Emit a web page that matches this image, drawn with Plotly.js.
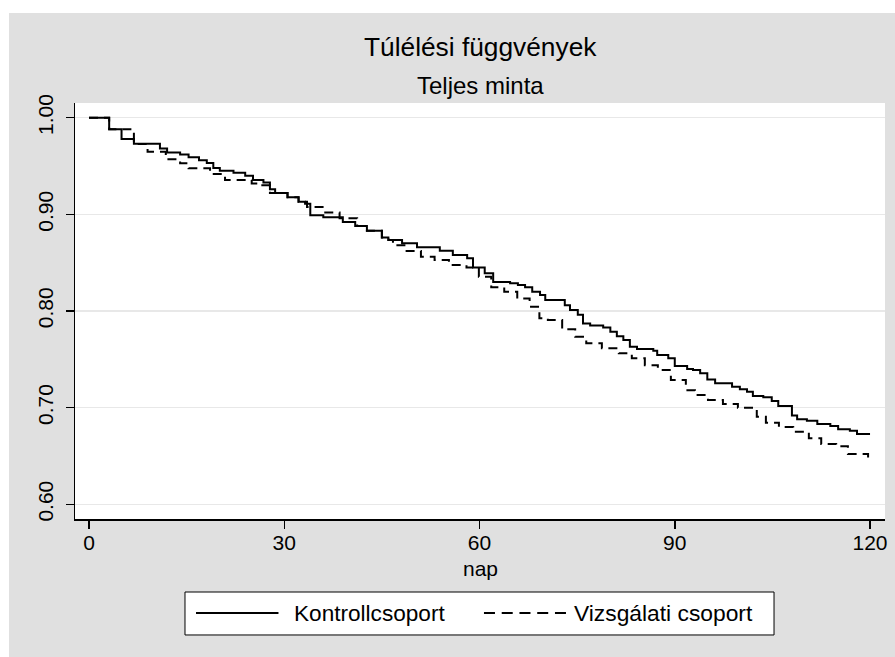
<!DOCTYPE html>
<html>
<head>
<meta charset="utf-8">
<script src="https://cdn.plot.ly/plotly-3.0.1.min.js"></script>
<style>
html,body{margin:0;padding:0;background:#ffffff;width:895px;height:657px;overflow:hidden;}
#chart{position:absolute;left:9px;top:13px;width:886px;height:644px;}
</style>
</head>
<body>
<div id="chart"></div>
<script>
// Kontrollcsoport (solid) step function: time of drop, survival after drop
const kontrollT = [0,3.1,5.0,6.9,10.9,12.0,14.0,15.3,16.9,18.1,19.1,20.1,22.2,24.0,25.2,26.8,27.8,28.6,30.5,32.2,33.2,34.0,36.0,39.0,40.9,42.7,45.0,46.0,48.1,50.4,53.9,55.9,58.1,59.0,60.8,62.1,64.7,65.9,67.0,68.1,69.3,70.1,73.1,73.9,75.1,75.9,77.0,79.0,80.1,81.1,82.1,83.1,84.2,86.7,87.3,89.0,90.0,91.9,92.8,93.9,95.0,96.2,98.8,100.0,101.1,102.0,103.6,104.9,105.9,108.0,108.8,110.3,111.9,113.9,115.1,116.9,118.0,120];
const kontrollS = [1.000,0.988,0.978,0.973,0.968,0.964,0.962,0.959,0.956,0.953,0.948,0.945,0.943,0.940,0.9355,0.933,0.926,0.922,0.9176,0.913,0.911,0.899,0.897,0.892,0.888,0.883,0.876,0.8735,0.870,0.866,0.8624,0.858,0.8545,0.845,0.839,0.830,0.8287,0.827,0.8245,0.820,0.8166,0.8114,0.806,0.801,0.796,0.787,0.785,0.783,0.7786,0.774,0.770,0.763,0.7607,0.759,0.7545,0.751,0.743,0.740,0.739,0.7355,0.729,0.7252,0.7217,0.719,0.7165,0.712,0.7107,0.707,0.7017,0.692,0.688,0.6865,0.683,0.681,0.6776,0.676,0.6727,0.6727];

// Vizsgálati csoport (dashed)
const vizsgT = [0,3.1,6.9,9.0,11.8,14.0,15.3,18.6,20.9,25.0,26.3,27.8,30.5,32.2,33.5,36.3,38.5,41.2,42.7,45.0,46.0,46.7,48.8,51.0,53.1,55.3,58.0,59.9,61.8,63.8,65.8,67.7,69.2,70.5,72.7,74.7,76.4,78.8,81.4,83.4,85.4,87.4,89.4,91.7,93.1,95.1,97.4,99.7,102.6,104.0,106.0,108.2,110.6,112.5,114.8,116.6,119.7,120];
const vizsgS = [1.000,0.988,0.9728,0.9648,0.957,0.9528,0.9476,0.9418,0.9355,0.932,0.930,0.922,0.9176,0.913,0.9075,0.902,0.896,0.888,0.883,0.876,0.8735,0.868,0.862,0.856,0.8528,0.8476,0.845,0.8355,0.8245,0.820,0.813,0.8045,0.7924,0.7907,0.781,0.7734,0.7666,0.7614,0.7562,0.751,0.744,0.739,0.7286,0.718,0.713,0.708,0.7038,0.700,0.6906,0.6845,0.680,0.675,0.6683,0.6624,0.660,0.652,0.6476,0.6476];

const seriesNames = ["Kontrollcsoport", "Vizsgálati csoport"];
const xTicks = [0, 30, 60, 90, 120];
const yTicks = [0.6, 0.7, 0.8, 0.9, 1.0];
const titleText = "Túlélési függvények";
const subtitleText = "Teljes minta";
const xLabel = "nap";

const FONT = "Liberation Sans, Arial, Helvetica, sans-serif";
const DASH = "11px,6.75px";

const traces = [
  {x: kontrollT, y: kontrollS, name: seriesNames[0], type: "scatter", mode: "lines",
   line: {shape: "hv", color: "#000000", width: 2}},
  {x: vizsgT, y: vizsgS, name: seriesNames[1], type: "scatter", mode: "lines",
   line: {shape: "hv", color: "#000000", width: 2, dash: "9px,6px"}}
];

// legend geometry (paper coordinates; plot area is 810 x 416 px)
const legY = -0.2260;
const legendShapes = [
  {type: "rect", xref: "paper", yref: "paper", x0: 0.1358, x1: 0.8630, y0: -0.2788, y1: -0.1755,
   line: {color: "#000000", width: 1}, fillcolor: "#ffffff", layer: "above"},
  {type: "line", xref: "paper", yref: "paper", x0: 0.1494, x1: 0.2512, y0: legY, y1: legY,
   line: {color: "#000000", width: 2}, layer: "above"},
  {type: "line", xref: "paper", yref: "paper", x0: 0.5049, x1: 0.6062, y0: legY, y1: legY,
   line: {color: "#000000", width: 2, dash: DASH}, layer: "above"}
];

const layout = {
  width: 886, height: 644,
  paper_bgcolor: "#e0e0e0",
  plot_bgcolor: "#ffffff",
  margin: {l: 66, r: 10, t: 90, b: 138},
  font: {family: FONT, color: "#000000", size: 21},
  showlegend: false,
  xaxis: {
    range: [-2.15, 122.3], tickvals: xTicks, ticktext: xTicks.map(String),
    showgrid: false, zeroline: false, showline: true, linecolor: "#000000", linewidth: 1.5,
    ticks: "outside", ticklen: 8, tickwidth: 1.5, tickcolor: "#000000", ticklabelstandoff: -4,
    tickfont: {family: FONT, size: 21, color: "#000000"}
  },
  yaxis: {
    range: [0.5848, 1.0152], tickvals: yTicks, tickformat: ".2f", tickangle: -90,
    showgrid: true, gridcolor: "#e8e8e8", gridwidth: 1.5, zeroline: false,
    showline: true, linecolor: "#000000", linewidth: 1.5,
    ticks: "outside", ticklen: 8, tickwidth: 1.5, tickcolor: "#000000", ticklabelstandoff: 4,
    tickfont: {family: FONT, size: 21, color: "#000000"}
  },
  shapes: legendShapes,
  annotations: [
    {text: titleText, xref: "paper", yref: "paper", x: 0.5, y: 1.1346, xanchor: "center", yanchor: "middle",
     showarrow: false, font: {family: FONT, size: 26.3, color: "#000000"}},
    {text: subtitleText, xref: "paper", yref: "paper", x: 0.5, y: 1.043, xanchor: "center", yanchor: "middle",
     showarrow: false, font: {family: FONT, size: 24, color: "#000000"}},
    {text: xLabel, xref: "paper", yref: "paper", x: 0.5, y: -0.1195, xanchor: "center", yanchor: "middle",
     showarrow: false, font: {family: FONT, size: 21, color: "#000000"}},
    {text: seriesNames[0], xref: "paper", yref: "paper", x: 0.2685, y: legY, xanchor: "left", yanchor: "middle",
     showarrow: false, font: {family: FONT, size: 22.6, color: "#000000"}},
    {text: seriesNames[1], xref: "paper", yref: "paper", x: 0.6135, y: legY, xanchor: "left", yanchor: "middle",
     showarrow: false, font: {family: FONT, size: 22.8, color: "#000000"}}
  ]
};

Plotly.newPlot("chart", traces, layout, {displayModeBar: false, staticPlot: true});
</script>
</body>
</html>
